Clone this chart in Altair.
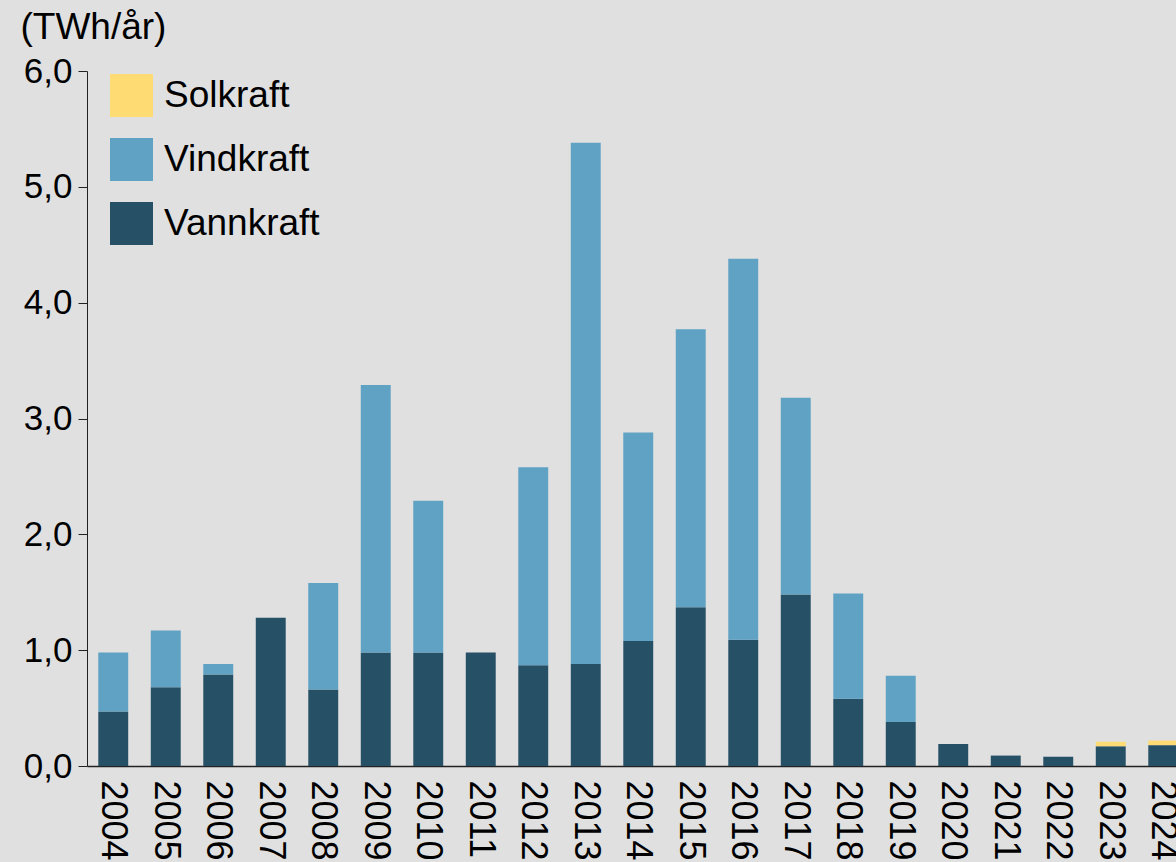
import altair as alt
import pandas as pd

years = [str(y) for y in range(2004, 2025)]
vannkraft = [0.47, 0.68, 0.79, 1.28, 0.66, 0.98, 0.98, 0.98, 0.87, 0.88, 1.08,
             1.37, 1.09, 1.48, 0.58, 0.38, 0.19, 0.09, 0.08, 0.17, 0.18]
vindkraft = [0.51, 0.49, 0.09, 0.0, 0.92, 2.31, 1.31, 0.0, 1.71, 4.50, 1.80,
             2.40, 3.29, 1.70, 0.91, 0.40, 0.0, 0.0, 0.0, 0.0, 0.0]
solkraft = [0.0] * 19 + [0.04, 0.04]

series = ["Solkraft", "Vindkraft", "Vannkraft"]
colors = ["#FFDB74", "#5FA2C4", "#265066"]
stack_order = {"Vannkraft": 0, "Vindkraft": 1, "Solkraft": 2}

rows = []
for i, y in enumerate(years):
    for name, vals in (("Vannkraft", vannkraft), ("Vindkraft", vindkraft), ("Solkraft", solkraft)):
        rows.append({"year": y, "type": name, "value": vals[i], "ord": stack_order[name]})
df = pd.DataFrame(rows)

FONT = "Liberation Sans"

chart = alt.Chart(df).mark_bar().encode(
    x=alt.X("year:N", sort=years,
            scale=alt.Scale(range=[0, 1102.5], paddingInner=0.43, paddingOuter=0.215),
            axis=alt.Axis(title=None, labelAngle=90, labelAlign="left", labelBaseline="middle",
                          labelPadding=14, ticks=False, labelFontSize=36, labelFont=FONT,
                          labelColor="#000000", domainColor="#222222", domainWidth=1.5,
                          labelOverlap=False)),
    y=alt.Y("value:Q", stack="zero",
            scale=alt.Scale(domain=[0, 6], nice=False),
            axis=alt.Axis(values=[0, 1, 2, 3, 4, 5, 6],
                          labelExpr="replace(format(datum.value, '.1f'), '.', ',')",
                          grid=False, tickSize=9, tickColor="#222222", domainColor="#222222",
                          labelFontSize=35, labelFont=FONT, labelColor="#000000", labelPadding=6,
                          title="(TWh/år)", titleAngle=0, titleAlign="left",
                          titleBaseline="alphabetic", titleX=-67, titleY=-33,
                          titleFontSize=37, titleFont=FONT, titleFontWeight="normal",
                          titleColor="#000000")),
    color=alt.Color("type:N", sort=series,
                    scale=alt.Scale(domain=series, range=colors),
                    legend=alt.Legend(title=None, orient="none", legendX=23, legendY=3,
                                      symbolType="square", symbolSize=1849, symbolStrokeWidth=0,
                                      symbolOpacity=1, labelFontSize=37, labelFont=FONT,
                                      labelColor="#000000", labelOffset=11, rowPadding=21,
                                      padding=0)),
    order=alt.Order("ord:Q"),
).properties(
    width=1089, height=695,
    autosize=alt.AutoSizeParams(type="none"),
    padding={"left": 87, "top": 71, "right": 0, "bottom": 96},
    background="#E0E0E0",
).configure_view(stroke=None)

chart.save("out.html", embed_options={"renderer": "svg", "actions": False})
